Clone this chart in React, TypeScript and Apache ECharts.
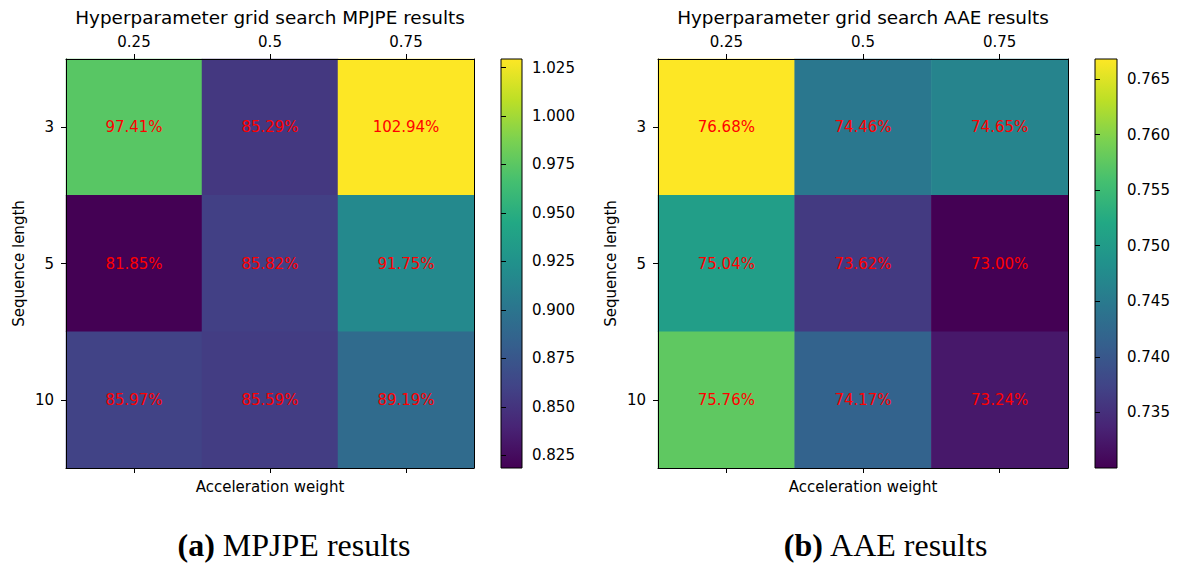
import React, { useEffect, useRef } from "react";
import * as echarts from "echarts";

const weights = ["0.25", "0.5", "0.75"];
const seqLengths = ["3", "5", "10"];

// rows: sequence length 3, 5, 10 ; cols: weight 0.25, 0.5, 0.75 (percent)
const mpjpe = [
  [97.41, 85.29, 102.94],
  [81.85, 85.82, 91.75],
  [85.97, 85.59, 89.19],
];
const aae = [
  [76.68, 74.46, 74.65],
  [75.04, 73.62, 73.0],
  [75.76, 74.17, 73.24],
];

const mpjpeTicks = [0.825, 0.85, 0.875, 0.9, 0.925, 0.95, 0.975, 1.0, 1.025];
const aaeTicks = [0.735, 0.74, 0.745, 0.75, 0.755, 0.76, 0.765];

const viridis = [
  "#440154", "#482475", "#414487", "#355f8d", "#2a788e", "#21918c",
  "#22a884", "#44bf70", "#7ad151", "#bddf26", "#fde725",
];

const FONT = "DejaVu Sans";
const FS = 15;

function toCells(m: number[][]) {
  const out: number[][] = [];
  m.forEach((row, yi) => row.forEach((v, xi) => out.push([xi, yi, v])));
  return out;
}
function flat(m: number[][]) {
  return m.reduce((a, r) => a.concat(r), [] as number[]);
}

export default function App() {
  const ref = useRef<HTMLDivElement>(null);
  useEffect(() => {
    document.body.style.margin = "0";
    const chart = echarts.init(ref.current!, undefined, { renderer: "svg" });

    const mMin = Math.min(...flat(mpjpe));
    const mMax = Math.max(...flat(mpjpe));
    const aMin = Math.min(...flat(aae));
    const aMax = Math.max(...flat(aae));

    const topX = (gridIndex: number) => ({
      type: "category",
      gridIndex,
      position: "top",
      data: weights,
      z: 5,
      axisLine: { show: true, lineStyle: { color: "#000", width: 1 } },
      axisTick: { show: true, alignWithLabel: true, length: 5, lineStyle: { color: "#000" } },
      axisLabel: { show: true, color: "#000", fontFamily: FONT, fontSize: FS, margin: 10 },
      splitLine: { show: false },
    });
    const bottomX = (gridIndex: number) => ({
      type: "category",
      gridIndex,
      position: "bottom",
      data: weights,
      z: 5,
      name: "Acceleration weight",
      nameLocation: "middle",
      nameGap: 11,
      nameTextStyle: { color: "#000", fontFamily: FONT, fontSize: FS },
      axisLine: { show: true, lineStyle: { color: "#000", width: 1 } },
      axisTick: { show: true, alignWithLabel: true, length: 5, lineStyle: { color: "#000" } },
      axisLabel: { show: false },
      splitLine: { show: false },
    });
    const leftY = (gridIndex: number) => ({
      type: "category",
      gridIndex,
      position: "left",
      inverse: true,
      data: seqLengths,
      z: 5,
      name: "Sequence length",
      nameLocation: "middle",
      nameRotate: 90,
      nameGap: 40,
      nameTextStyle: { color: "#000", fontFamily: FONT, fontSize: FS },
      axisLine: { show: true, lineStyle: { color: "#000", width: 1 } },
      axisTick: { show: true, alignWithLabel: true, length: 5, lineStyle: { color: "#000" } },
      axisLabel: { show: true, color: "#000", fontFamily: FONT, fontSize: FS, margin: 12 },
      splitLine: { show: false },
    });
    const rightBorderY = (gridIndex: number) => ({
      type: "category",
      gridIndex,
      position: "right",
      inverse: true,
      data: seqLengths,
      z: 5,
      axisLine: { show: true, lineStyle: { color: "#000", width: 1 } },
      axisTick: { show: false },
      axisLabel: { show: false },
      splitLine: { show: false },
    });
    const cbX = (gridIndex: number) => ({
      type: "value",
      gridIndex,
      min: 0,
      max: 1,
      show: false,
    });
    const cbY = (gridIndex: number, min: number, max: number, ticks: number[]) => ({
      type: "value",
      gridIndex,
      position: "right",
      min,
      max,
      z: 5,
      axisLine: { show: false },
      axisTick: { show: true, length: 5, lineStyle: { color: "#000" }, customValues: ticks },
      axisLabel: {
        show: true,
        color: "#000",
        fontFamily: FONT,
        fontSize: FS,
        margin: 10,
        customValues: ticks,
        formatter: (v: number) => v.toFixed(3),
      },
      splitLine: { show: false },
    });

    const stops = viridis.map((c, i) => ({ offset: i / (viridis.length - 1), color: c }));
    const cbRender = (params: any, api: any) => {
      const p1 = api.coord([0, api.value(2)]);
      const p2 = api.coord([1, api.value(1)]);
      return {
        type: "rect",
        shape: { x: p1[0], y: p1[1], width: p2[0] - p1[0], height: p2[1] - p1[1] },
        style: {
          fill: new echarts.graphic.LinearGradient(0, 1, 0, 0, stops),
          stroke: "#000",
          lineWidth: 1,
        },
      };
    };

    const heatLabel = {
      show: true,
      color: "#ff0000",
      fontFamily: FONT,
      fontSize: FS,
      formatter: (p: any) => p.value[2].toFixed(2) + "%",
    };

    const serif = "Liberation Serif";
    const capRich = {
      b: { fontFamily: serif, fontSize: 32, fontWeight: "bold", fill: "#000" },
      n: { fontFamily: serif, fontSize: 32, fill: "#000" },
    };

    chart.setOption({
      animation: false,
      backgroundColor: "#fff",
      grid: [
        { left: 66, top: 59, width: 408, height: 409 },
        { left: 501, top: 59, width: 21, height: 409 },
        { left: 658, top: 59, width: 410, height: 409 },
        { left: 1095, top: 59, width: 22, height: 409 },
      ],
      xAxis: [topX(0), bottomX(0), cbX(1), topX(2), bottomX(2), cbX(3)],
      yAxis: [
        leftY(0),
        rightBorderY(0),
        cbY(1, mMin / 100, mMax / 100, mpjpeTicks),
        leftY(2),
        rightBorderY(2),
        cbY(3, aMin / 100, aMax / 100, aaeTicks),
      ],
      visualMap: [
        { type: "continuous", show: false, seriesIndex: 0, dimension: 2, min: mMin, max: mMax, inRange: { color: viridis } },
        { type: "continuous", show: false, seriesIndex: 2, dimension: 2, min: aMin, max: aMax, inRange: { color: viridis } },
      ],
      series: [
        { type: "heatmap", xAxisIndex: 0, yAxisIndex: 0, data: toCells(mpjpe), label: heatLabel, itemStyle: { borderWidth: 0 } },
        { type: "custom", xAxisIndex: 2, yAxisIndex: 2, data: [[0, mMin / 100, mMax / 100]], renderItem: cbRender, silent: true },
        { type: "heatmap", xAxisIndex: 3, yAxisIndex: 3, data: toCells(aae), label: heatLabel, itemStyle: { borderWidth: 0 } },
        { type: "custom", xAxisIndex: 5, yAxisIndex: 5, data: [[0, aMin / 100, aMax / 100]], renderItem: cbRender, silent: true },
      ],
      graphic: [
        {
          type: "text", x: 270, y: 17,
          style: { text: "Hyperparameter grid search MPJPE results", fill: "#000", font: `18.4px "${FONT}"`, textAlign: "center", textVerticalAlign: "middle" },
        },
        {
          type: "text", x: 863, y: 17,
          style: { text: "Hyperparameter grid search AAE results", fill: "#000", font: `18.4px "${FONT}"`, textAlign: "center", textVerticalAlign: "middle" },
        },
        {
          type: "text", x: 294, y: 545,
          style: { text: "{b|(a)}{n| MPJPE results}", textAlign: "center", textVerticalAlign: "middle", rich: capRich },
        },
        {
          type: "text", x: 886, y: 545,
          style: { text: "{b|(b)}{n| AAE results}", textAlign: "center", textVerticalAlign: "middle", rich: capRich },
        },
      ],
    });
    return () => chart.dispose();
  }, []);
  return <div ref={ref} style={{ width: 1178, height: 563 }} />;
}
